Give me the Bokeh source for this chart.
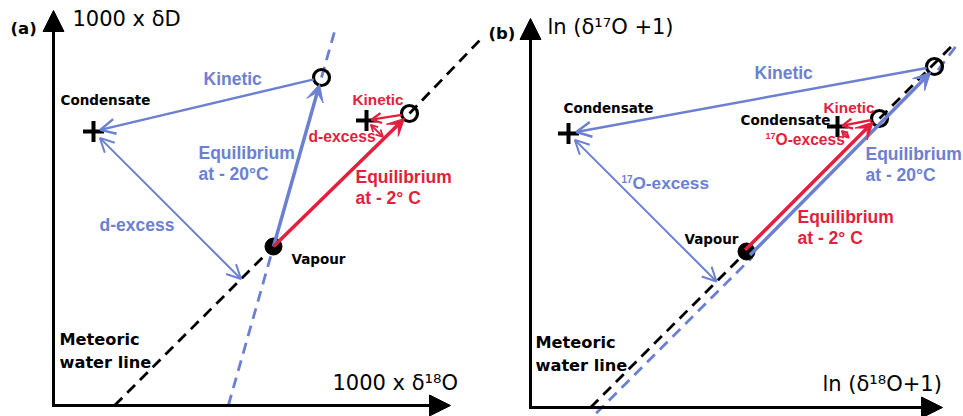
import numpy as np
from bokeh.plotting import figure
from bokeh.layouts import row
from bokeh.models import Arrow, VeeHead, OpenHead, NormalHead, Range1d
from bokeh.core.properties import value
from bokeh.embed import file_html
from bokeh.resources import INLINE

BLUE = "#6C80D2"
RED = "#E21F3D"
INK = "black"

# ---- panel (a): 1000 x dD against 1000 x d18O (diagram units, origin at the axes corner)
a_vapour = [220, 159]
a_eq_cold = [268, 328]      # condensate in equilibrium with the vapour at -20 C
a_eq_warm = [356, 292]      # condensate in equilibrium with the vapour at -2 C
a_cond_cold = [40, 274]     # condensate after the kinetic effect, -20 C
a_cond_warm = [313, 285]    # condensate after the kinetic effect, -2 C
a_mwl = [1.0, -61.0]        # meteoric water line: slope, intercept
a_mwl_top = 428             # x where the meteoric water line stops
a_cold_top = 282            # x where the -20 C equilibrium line stops
a_axes = [397, 395]         # lengths of the x and y axes

# ---- panel (b): ln(d17O+1) against ln(d18O+1)
b_vapour = [216, 156]
b_eq_cold = [404, 341]
b_eq_warm = [349, 289]
b_cond_cold = [38, 274]
b_cond_warm = [307, 281]
b_mwl = [1.0, -60.0]
b_mwl_top = 422
b_cold_top = 426
b_axes = [412, 389]


def unit(p, q):
    d = np.asarray(q, float) - np.asarray(p, float)
    return d / np.hypot(*d)


def toward(p, q, dist):
    return np.asarray(p, float) + dist * unit(p, q)


def foot(pt, line):
    m, c = line
    x = (pt[0] + m * (pt[1] - c)) / (1 + m * m)
    return np.array([x, m * x + c])


def panel(width, x0, y0):
    p = figure(width=width, height=416, x_range=Range1d(x0, x0 + width),
               y_range=Range1d(y0, y0 + 416), output_backend="svg",
               toolbar_location=None, min_border=0, x_axis_type=None,
               y_axis_type=None)
    p.grid.visible = False
    p.outline_line_color = None
    p.background_fill_color = "white"
    return p


def arrow(p, a, b, color, width, head, both=False):
    kw = dict(x_start=float(a[0]), y_start=float(a[1]), x_end=float(b[0]),
              y_end=float(b[1]), line_color=color, line_width=width, end=head())
    kw["start"] = head() if both else None
    p.add_layout(Arrow(**kw))


def vee(color, size):
    return lambda: VeeHead(size=size, fill_color=color, line_color=color, line_width=1)


def open_head(color, size, width):
    return lambda: OpenHead(size=size, line_color=color, line_width=width)


def axes(p, lengths):
    head = lambda: NormalHead(size=21, fill_color=INK, line_color=INK, line_width=1)
    p.line([0, 0], [0, lengths[1] - 10], line_color=INK, line_width=2.8, line_cap="square")
    p.line([0, lengths[0] - 10], [0, 0], line_color=INK, line_width=2.8, line_cap="square")
    p.add_layout(Arrow(x_start=0, y_start=0, x_end=0, y_end=lengths[1], end=head(),
                       line_color=INK, line_width=2.8))
    p.add_layout(Arrow(x_start=0, y_start=0, x_end=lengths[0], y_end=0, end=head(),
                       line_color=INK, line_width=2.8))


def dashed(p, a, b, color):
    p.line([a[0], b[0]], [a[1], b[1]], line_color=color, line_width=2.8,
           line_dash="11 7")


def label(p, text, x, y, color=INK, size="17.5px", font="Liberation Sans",
          bold=True, align="left"):
    p.text(x=[x], y=[y], text=[text], text_color=color, text_font=value(font),
           text_font_size=size, text_font_style="bold" if bold else "normal",
           text_baseline="middle", text_align=align)


def sup_label(p, sup, text, x, y, color, size, sup_size):
    label(p, sup, x, y + 4, color, sup_size, align="right")
    label(p, text, x, y, color, size)


def markers(p, eq_pts, cond_pts, vapour):
    p.scatter([pt[0] for pt in cond_pts], [pt[1] for pt in cond_pts], marker="cross",
              size=21, line_color=INK, line_width=4)
    p.scatter([pt[0] for pt in eq_pts], [pt[1] for pt in eq_pts], marker="circle",
              size=16, fill_color=None, line_color=INK, line_width=3.2)
    p.scatter([vapour[0]], [vapour[1]], marker="circle", size=17, fill_color=INK,
              line_color=INK)


# ================= panel (a) =================
pa = panel(481, -53, -11)
axes(pa, a_axes)

m, c = a_mwl
dashed(pa, (-c / m, 0), a_vapour, INK)
dashed(pa, a_eq_warm, (a_mwl_top, m * a_mwl_top + c), INK)

slope_cold = (a_eq_cold[1] - a_vapour[1]) / (a_eq_cold[0] - a_vapour[0])
dashed(pa, (a_vapour[0] - a_vapour[1] / slope_cold, 0), a_vapour, BLUE)
dashed(pa, a_eq_cold, (a_cold_top, a_vapour[1] + (a_cold_top - a_vapour[0]) * slope_cold), BLUE)

# equilibrium fractionation
arrow(pa, a_vapour, toward(a_eq_cold, a_vapour, 7), BLUE, 3.5, vee(BLUE, 17))
arrow(pa, a_vapour, toward(a_eq_warm, a_vapour, 7), RED, 3.5, vee(RED, 17))
# kinetic effect
arrow(pa, toward(a_eq_cold, a_cond_cold, 8), toward(a_cond_cold, a_eq_cold, 7),
      BLUE, 2.5, open_head(BLUE, 15, 2.5))
arrow(pa, toward(a_eq_warm, a_cond_warm, 8), toward(a_cond_warm, a_eq_warm, 5),
      RED, 2.3, open_head(RED, 10, 2.3))
# d-excess, measured from the meteoric water line
fa = foot(a_cond_cold, a_mwl)
arrow(pa, toward(a_cond_cold, fa, 9), fa, BLUE, 2, open_head(BLUE, 14, 2), both=True)
fr = foot(a_cond_warm, a_mwl)
arrow(pa, toward(a_cond_warm, fr, 6), fr, RED, 1.8, open_head(RED, 7, 1.8), both=True)

markers(pa, [a_eq_cold, a_eq_warm], [a_cond_cold, a_cond_warm], a_vapour)

label(pa, "(a)", -43, 377, size="16.5px", font="DejaVu Sans")
label(pa, "1000 x δD", 19, 387, size="21px", font="DejaVu Sans", bold=False)
label(pa, "1000 x δ¹⁸O", 279, 23, size="21px", font="DejaVu Sans", bold=False)
label(pa, "Kinetic", 150, 327, BLUE)
label(pa, "Condensate", 7, 306, size="13.5px", font="DejaVu Sans")
label(pa, "Equilibrium", 145, 253, BLUE)
label(pa, "at - 20°C", 145, 232, BLUE)
label(pa, "d-excess", 46, 181, BLUE)
label(pa, "Vapour", 238, 147, size="13.5px", font="DejaVu Sans")
label(pa, "Meteoric", 6, 66, size="16.2px", font="DejaVu Sans")
label(pa, "water line", 6, 43, size="16.2px", font="DejaVu Sans")
label(pa, "Kinetic", 299, 306, RED, size="15.3px")
label(pa, "d-excess", 255, 269, RED, size="15.7px")
label(pa, "Equilibrium", 302, 229, RED)
label(pa, "at - 2° C", 302, 208, RED)

# ================= panel (b) =================
pb = panel(482, -49, -9)
axes(pb, b_axes)

m, c = b_mwl
# the -20 C line runs alongside the meteoric water line, drawn a little apart
off_blue = np.array([0.7071, -0.7071]) * 5
off_red = np.array([-0.7071, 0.7071]) * 2
dashed(pb, (-c / m, 0) + off_blue * 1.6, np.asarray(b_vapour) + off_blue * 1.6, BLUE)
dashed(pb, (-c / m, 0), b_vapour, INK)
dashed(pb, b_eq_warm, (b_mwl_top, m * b_mwl_top + c), INK)
dashed(pb, np.asarray(b_eq_cold) + off_blue, (b_cold_top, m * b_cold_top + c - 4), BLUE)

arrow(pb, np.asarray(b_vapour) + off_blue, toward(b_eq_cold, b_vapour, 7) + off_blue * 0.3,
      BLUE, 3.5, vee(BLUE, 17))
arrow(pb, np.asarray(b_vapour) + off_red, toward(b_eq_warm, b_vapour, 7) + off_red,
      RED, 3.5, vee(RED, 17))
arrow(pb, toward(b_eq_cold, b_cond_cold, 8), toward(b_cond_cold, b_eq_cold, 8),
      BLUE, 2.5, open_head(BLUE, 15, 2.5))
arrow(pb, toward(b_eq_warm, b_cond_warm, 8), toward(b_cond_warm, b_eq_warm, 5),
      RED, 2.3, open_head(RED, 10, 2.3))
fb = foot(b_cond_cold, b_mwl)
arrow(pb, toward(b_cond_cold, fb, 9), fb, BLUE, 2, open_head(BLUE, 14, 2), both=True)
fbr = foot(b_cond_warm, b_mwl)
arrow(pb, toward(b_cond_warm, fbr, 6), toward(fbr, b_cond_warm, 8), RED, 1.8,
      open_head(RED, 6, 1.8), both=True)

markers(pb, [b_eq_cold, b_eq_warm], [b_cond_cold, b_cond_warm], b_vapour)

label(pb, "(b)", -42, 374, size="16.5px", font="DejaVu Sans")
label(pb, "ln (δ¹⁷O +1)", 17, 381, size="21px", font="DejaVu Sans", bold=False)
label(pb, "ln (δ¹⁸O+1)", 292, 24, size="21px", font="DejaVu Sans", bold=False)
label(pb, "Kinetic", 224, 335, BLUE)
label(pb, "Condensate", 33, 300, size="13.5px", font="DejaVu Sans")
sup_label(pb, "17", "O-excess", 102, 225, BLUE, "17.2px", "10px")
label(pb, "Vapour", 154, 169, size="13.5px", font="DejaVu Sans")
label(pb, "Meteoric", 5, 65, size="16.2px", font="DejaVu Sans")
label(pb, "water line", 5, 42, size="16.2px", font="DejaVu Sans")
label(pb, "Kinetic", 293, 300, RED, size="15.3px")
label(pb, "Condensate", 210, 288, size="13.5px", font="DejaVu Sans")
sup_label(pb, "17", "O-excess", 245, 268, RED, "15.6px", "9px")
label(pb, "Equilibrium", 335, 254, BLUE)
label(pb, "at - 20°C", 335, 233, BLUE)
label(pb, "Equilibrium", 267, 191, RED)
label(pb, "at - 2° C", 267, 170, RED)

layout = row(pa, pb)
open("out.html", "w").write(file_html(layout, INLINE))
